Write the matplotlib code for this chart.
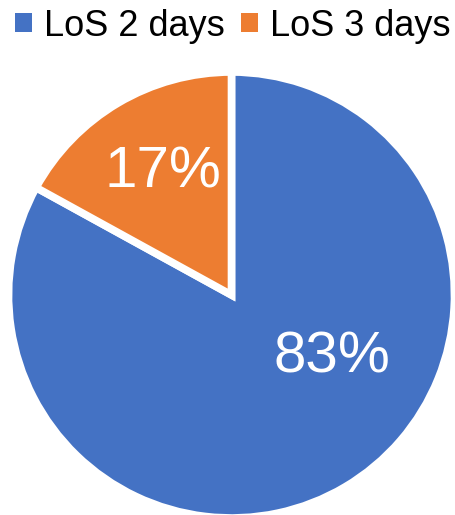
import numpy as np
import matplotlib.pyplot as plt
from matplotlib.patches import Patch

plt.rcParams['font.family'] = ['Liberation Sans', 'DejaVu Sans']

categories = ["LoS 2 days", "LoS 3 days"]
shares = [83, 17]
colors = ["#4472C4", "#ED7D31"]

W, H = 456, 515
fig = plt.figure(figsize=(W / 100, H / 100), dpi=100)

# pie centre and radius in pixels
cx, cy, r = 231.5, H - 295, 223
ax = fig.add_axes([(cx - r) / W, (cy - r) / H, 2 * r / W, 2 * r / H])
ax.set_aspect("equal")
ax.axis("off")

wedges, _ = ax.pie(shares, colors=colors, startangle=90, counterclock=False,
                   radius=1, center=(0, 0),
                   wedgeprops=dict(edgecolor="white", linewidth=5.5))
ax.set_xlim(-1, 1)
ax.set_ylim(-1, 1)

# label placement (angle in degrees, distance as fraction of radius)
label_pos = [(-31.8, 0.53), (119.0, 0.63)]
for v, (ang, d) in zip(shares, label_pos):
    a = np.deg2rad(ang)
    ax.text(d * np.cos(a), d * np.sin(a), f"{v}%", color="white",
            fontsize=42, ha="center", va="center")

handles = [Patch(facecolor=c, edgecolor="none") for c in colors]
fig.legend(handles, categories, loc="center", bbox_to_anchor=(0.5 + 5 / W, 1 - 26 / H),
           ncol=2, frameon=False, fontsize=26, handlelength=0.45, handleheight=0.45,
           handletextpad=0.35, columnspacing=0.45, borderpad=0)

fig.savefig("out.png", dpi=100)
